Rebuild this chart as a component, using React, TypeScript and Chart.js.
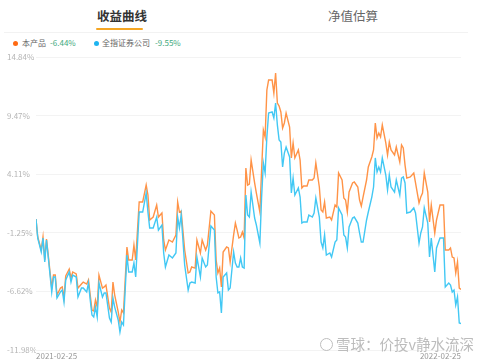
import React, { useEffect, useRef } from 'react';
import { Chart, registerables } from 'chart.js';

Chart.register(...registerables);

const tradingDays = [
  0, 1, 3, 4, 5, 6, 7, 9, 10, 11, 12, 14, 15, 16, 17, 19, 20, 21, 23, 24, 26, 27, 29, 30, 31, 32, 33, 34, 35, 36,
  38, 39, 40, 42, 43, 44, 45, 47, 48, 49, 50, 52, 53, 55, 56, 57, 59, 61, 63, 64, 65, 67, 69, 70, 72, 73, 74, 76, 78, 80,
  81, 82, 83, 85, 87, 88, 89, 91, 92, 94, 95, 97, 98, 100, 102, 103, 104, 105, 106, 107, 109, 110, 111, 113, 114, 115, 116, 117, 118, 119,
  120, 121, 122, 123, 125, 126, 128, 129, 130, 131, 132, 133, 135, 136, 137, 138, 139, 140, 141, 142, 143, 145, 146, 147, 148, 150, 151, 152, 153, 155,
  156, 158, 159, 160, 162, 163, 164, 165, 166, 168, 169, 171, 172, 173, 175, 176, 177, 178, 179, 181, 182, 184, 185, 186, 187, 189, 190, 192, 193, 194,
  195, 196, 197, 198, 200, 201, 202, 203, 205, 206, 208, 209, 210, 211, 212, 214, 216, 217, 219, 220, 221, 222, 224, 225, 226, 228, 229, 231, 232, 233,
  234, 236, 237, 238, 239, 240, 241, 242, 243,
];

const productReturn = [
  0.0, -1.64, -2.83, -1.64, -3.74, -1.82, -3.29, -6.31, -5.12, -5.12, -6.95, -6.31, -6.21, -7.22, -5.21, -4.57, -5.39, -4.84, -5.02, -6.31, -5.94, -5.76, -5.94, -5.57, -6.95, -8.32, -8.41, -7.4, -8.05, -5.12,
  -6.31, -6.21, -6.03, -8.14, -8.5, -5.76, -6.95, -8.5, -9.42, -8.32, -8.59, -2.55, -3.74, -3.74, -2.37, -3.74, 1.57, 1.57, 3.12, 2.21, -0.08, 0.19, 1.29, 0.19, 0.56, -1.91, -2.83, -1.91, -2.1, -1.45,
  1.57, 0.65, 0.74, -2.83, -4.93, -4.84, -4.38, -4.48, -1.91, -3.1, -1.91, -2.83, -2.37, 0.74, 0.38, -3.74, -4.93, -4.48, -6.21, -3.01, -2.55, -2.64, -3.93, -1.45, -0.36, -1.0, -1.73, -1.64, -1.18, -1.73,
  4.68, 3.12, 3.21, 5.41, 3.31, 2.39, 0.65, 4.5, 8.16, 7.52, 11.82, 12.73, 12.73, 11.54, 13.38, 10.63, 10.35, 9.81, 8.34, 8.8, 9.71, 8.43, 5.6, 6.97, 5.6, 6.33, 5.41, 2.85, 3.03, 3.03,
  3.58, 3.58, 3.76, 5.14, 2.94, 0.83, 0.65, 1.57, 0.1, 0.19, -0.08, 1.29, 1.11, 4.22, 3.58, 1.93, 1.75, 0.65, 2.48, 3.31, 3.4, 2.94, 1.75, 1.2, 2.02, 3.58, 4.77, 5.69, 6.33, 8.8,
  7.43, 7.88, 7.52, 8.62, 6.97, 5.87, 7.06, 6.33, 5.87, 6.6, 5.23, 6.78, 6.51, 4.95, 3.76, 3.86, 4.22, 3.31, 1.48, 2.02, 2.39, 4.22, 2.48, -0.26, 1.29, -1.27, -0.08, 1.29, 1.29, 1.29,
  -2.83, -2.83, -2.64, -3.47, -3.56, -4.93, -3.93, -6.31, -6.44,
];

const indexReturn = [
  0.0, -1.73, -3.01, -1.73, -3.93, -1.91, -3.47, -6.67, -5.3, -5.3, -7.22, -6.67, -6.49, -7.59, -5.57, -4.84, -5.76, -5.12, -5.3, -7.13, -6.31, -6.31, -6.67, -5.85, -7.4, -8.78, -8.96, -8.05, -8.96, -5.85,
  -7.13, -6.76, -6.76, -9.05, -9.42, -7.22, -8.05, -9.23, -10.33, -9.42, -9.69, -3.29, -4.84, -4.84, -4.02, -5.3, 0.65, 0.65, 2.39, 0.65, -0.81, -0.81, 0.19, -1.0, -0.54, -3.1, -4.38, -3.29, -3.56, -3.1,
  0.19, -0.81, 0.38, -4.2, -6.49, -5.85, -5.76, -5.85, -3.47, -5.3, -3.56, -4.38, -4.2, -0.63, -1.0, -5.3, -6.76, -6.67, -8.59, -5.3, -4.93, -6.49, -6.31, -3.01, -4.02, -4.38, -4.38, -3.56, -4.38, -4.48,
  2.21, 0.38, 0.19, 2.48, 0.1, -0.54, -2.19, 2.02, 5.14, 4.22, 7.52, 9.71, 9.81, 9.26, 10.63, 8.62, 7.24, 7.06, 4.77, 6.05, 6.6, 5.69, 2.39, 3.76, 2.21, 2.85, 2.02, -0.36, -0.26, -0.26,
  0.38, 0.19, 0.56, 1.93, 0.19, -2.1, -2.64, -1.45, -3.29, -3.1, -3.47, -2.1, -1.91, 1.02, 0.38, -1.45, -1.64, -2.64, -0.72, 0.1, 0.19, -0.36, -1.27, -2.1, -2.1, -0.08, 0.65, 2.02, 2.94, 5.6,
  4.31, 4.77, 4.31, 5.6, 4.04, 2.67, 4.04, 2.94, 2.48, 3.58, 2.21, 3.76, 3.86, 3.31, 0.56, 0.65, 1.02, 0.56, -2.19, -1.27, -0.72, 1.02, -0.36, -3.47, -1.73, -4.84, -2.64, -1.73, -1.73, -1.73,
  -6.21, -5.85, -6.03, -6.67, -6.49, -7.86, -7.13, -9.51, -9.55,
];

const yTickValues = [14.84, 9.47, 4.11, -1.25, -6.62, -11.98];
const xTickLabels = ['2021-02-25', '2022-02-25'];
const seriesNames = ['本产品', '全指证券公司'];
const seriesTotals = ['-6.44%', '-9.55%'];
const tabs = ['收益曲线', '净值估算'];
const watermark = '雪球：价投v静水流深';

const ORANGE = '#ff9347';
const BLUE = '#42c8f4';
const FONT = '"Noto Sans CJK SC", "Noto Sans", sans-serif';

function App() {
  const canvasRef = useRef<HTMLCanvasElement | null>(null);

  useEffect(() => {
    const canvas = canvasRef.current;
    if (!canvas) return;
    const chart = new Chart(canvas, {
      type: 'line',
      data: {
        datasets: [
          {
            label: seriesNames[1],
            data: tradingDays.map((d, i) => ({ x: d, y: indexReturn[i] })),
            borderColor: BLUE,
            borderWidth: 1.4,
            pointRadius: 0,
            tension: 0,
          },
          {
            label: seriesNames[0],
            data: tradingDays.map((d, i) => ({ x: d, y: productReturn[i] })),
            borderColor: ORANGE,
            borderWidth: 1.4,
            pointRadius: 0,
            tension: 0,
          },
        ],
      },
      options: {
        responsive: false,
        animation: false,
        layout: { padding: { left: 7, right: 19, top: 7, bottom: 0 } },
        plugins: { legend: { display: false }, tooltip: { enabled: false } },
        scales: {
          x: {
            type: 'linear',
            min: tradingDays[0],
            max: tradingDays[tradingDays.length - 1],
            grid: { display: false, drawTicks: false },
            border: { display: false },
            afterBuildTicks: (scale: any) => {
              scale.ticks = [{ value: tradingDays[0] }, { value: tradingDays[tradingDays.length - 1] }];
            },
            afterFit: (scale: any) => {
              scale.height = 10;
            },
            ticks: {
              autoSkip: false,
              maxRotation: 0,
              align: 'inner',
              padding: 1,
              color: '#999',
              font: { size: 8, family: FONT },
              callback: (_v: any, i: number) => xTickLabels[i],
            },
          },
          y: {
            min: yTickValues[yTickValues.length - 1],
            max: yTickValues[0],
            grid: { color: '#f3f3f3', drawTicks: false, lineWidth: 1 },
            border: { display: false },
            afterBuildTicks: (scale: any) => {
              scale.ticks = yTickValues.map((v) => ({ value: v }));
            },
            afterFit: (scale: any) => {
              scale.width = 29;
            },
            ticks: {
              crossAlign: 'far',
              padding: 0,
              color: '#b5b5b5',
              font: { size: 8, family: FONT },
              callback: (v: any) => Number(v).toFixed(2) + '%',
            },
          },
        },
      },
    } as any);
    return () => chart.destroy();
  }, []);

  const abs = (s: React.CSSProperties): React.CSSProperties => ({ position: 'absolute', whiteSpace: 'nowrap', ...s });

  return (
    <div style={{ position: 'fixed', left: 0, top: 0, width: 480, height: 360, background: '#fff', fontFamily: FONT, overflow: 'hidden' }}>
      <div style={abs({ left: 97, top: 7, fontSize: 12.5, lineHeight: '18px', fontWeight: 700, color: '#333' })}>{tabs[0]}</div>
      <div style={abs({ left: 96, top: 28, width: 47, height: 2, borderRadius: 1, background: '#f5a623' })} />
      <div style={abs({ left: 328, top: 7, fontSize: 12.5, lineHeight: '18px', color: '#666' })}>{tabs[1]}</div>
      <div style={abs({ left: 4, top: 32, width: 464, height: 1, background: '#f2f2f2' })} />

      <div style={abs({ left: 13, top: 41, width: 5, height: 5, borderRadius: 3, background: '#ff6a13' })} />
      <div style={abs({ left: 22, top: 37, fontSize: 8, lineHeight: '12px', color: '#666' })}>{seriesNames[0]}</div>
      <div style={abs({ left: 50, top: 37, fontSize: 8, lineHeight: '12px', color: '#41a97e' })}>{seriesTotals[0]}</div>
      <div style={abs({ left: 94, top: 41, width: 5, height: 5, borderRadius: 3, background: '#1eb4f0' })} />
      <div style={abs({ left: 102, top: 37, fontSize: 8, lineHeight: '12px', color: '#666' })}>{seriesNames[1]}</div>
      <div style={abs({ left: 155, top: 37, fontSize: 8, lineHeight: '12px', color: '#41a97e' })}>{seriesTotals[1]}</div>

      <div style={abs({ left: 0, top: 50, width: 480, height: 310 })}>
        <canvas ref={canvasRef} width={480} height={310} style={{ display: 'block', width: 480, height: 310 }} />
      </div>

      <div style={abs({ left: 320, top: 338, width: 13, height: 13, borderRadius: 7, border: '1.5px solid #bdbdbd', boxSizing: 'border-box' })} />
      <div style={abs({ left: 336, top: 334, fontSize: 14.5, lineHeight: '20px', color: '#bcbcbc', textShadow: '0 0 2px #fff' })}>{watermark}</div>
    </div>
  );
}

export default App;
